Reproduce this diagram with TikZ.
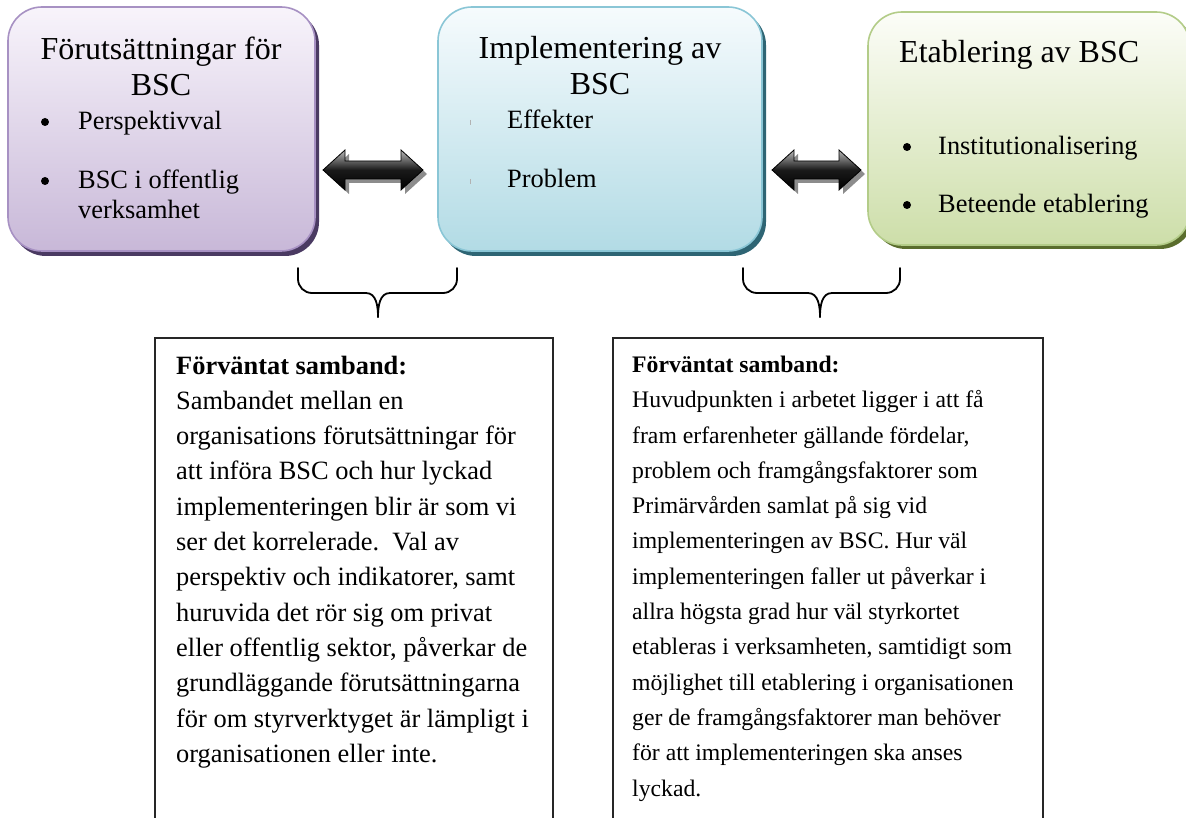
\documentclass[tikz,border=0pt]{standalone}
\usepackage{fontspec}
\setmainfont{Liberation Serif}
\usetikzlibrary{calc}

\definecolor{purpleTop}{HTML}{F8F4FB}
\definecolor{purpleBot}{HTML}{C8B8D8}
\definecolor{purpleLine}{HTML}{A791C3}
\definecolor{purpleShadow}{HTML}{4A3A62}
\definecolor{blueTop}{HTML}{F6FBFD}
\definecolor{blueBot}{HTML}{B2DBE5}
\definecolor{blueLine}{HTML}{8AC6D6}
\definecolor{blueShadow}{HTML}{2E6574}
\definecolor{greenTop}{HTML}{FCFDF8}
\definecolor{greenBot}{HTML}{CDDEA9}
\definecolor{greenLine}{HTML}{B3CC88}
\definecolor{greenShadow}{HTML}{5A6D2D}

% multi-line nodes are placed by the baseline of their last line
\tikzset{
  stagebox/.style={rounded corners=34pt, line width=1.6pt},
  body/.style={inner sep=0pt, anchor=base west, align=left,
    font=\fontsize{26.4}{35.3}\selectfont},
  smallbody/.style={inner sep=0pt, anchor=base west, align=left,
    font=\fontsize{23.7}{35.3}\selectfont},
  bodybullet/.style={inner sep=0pt, anchor=base west, align=left,
    font=\fontsize{26.4}{30.4}\selectfont},
  dot/.style={fill=black, circle, inner sep=0pt, minimum size=8pt},
  heading/.style={inner sep=0pt, anchor=base, align=center,
    font=\fontsize{32}{36.5}\selectfont},
  notebox/.style={draw=black!85, line width=1.6pt},
  bracket/.style={draw=black, line width=1.8pt, line cap=round},
  blockarrow/.style={draw=black, line width=0.8pt, top color=gray!55,
    bottom color=black, middle color=black!90},
  arrowshadow/.style={fill=black!45},
}

\begin{document}
\begin{tikzpicture}[x=1pt, y=-1pt]
\useasboundingbox (0,0) rectangle (1186,818);
\clip (0,0) rectangle (1186,818);

% ---- three stage boxes with their offset shadows ----
\fill[purpleShadow, rounded corners=34pt] (12,11) rectangle (319,256);
\path[stagebox, draw=purpleLine, top color=purpleTop, bottom color=purpleBot]
  (8,7) rectangle (315,251);

\fill[blueShadow, rounded corners=34pt] (442,11) rectangle (766,256);
\path[stagebox, draw=blueLine, top color=blueTop, bottom color=blueBot]
  (438,7) rectangle (762,251);

\fill[greenShadow, rounded corners=34pt] (872,16) rectangle (1194,249);
\path[stagebox, draw=greenLine, top color=greenTop, bottom color=greenBot]
  (868,12) rectangle (1190,245);

% ---- box texts ----
\node[heading] (t1) at (161,96) {Förutsättningar för\\BSC};
\node[dot] (t1a) at (45,122) {};
\node[bodybullet] (t1b) at (78,130) {Perspektivval};
\node[dot] (t1c) at (45,181) {};
\node[bodybullet] (t1d) at (78,219) {BSC i offentlig\\verksamhet};

\node[heading] (t2) at (600,95) {Implementering av\\BSC};
\draw[gray!60, line width=0.8pt] (470,120) -- (470,125);
\draw[gray!60, line width=0.8pt] (470,179) -- (470,184);
\node[bodybullet] (t2a) at (507,129) {Effekter};
\node[bodybullet] (t2b) at (507,188) {Problem};

\node[heading, anchor=base west] (t3) at (899,63) {Etablering av BSC};
\node[dot] (t3a) at (907,147) {};
\node[bodybullet] (t3b) at (938,155) {Institutionalisering};
\node[dot] (t3c) at (907,205) {};
\node[bodybullet] (t3d) at (938,213) {Beteende etablering};

% ---- double block arrows between the boxes ----
\foreach \xa/\xb in {323/423, 772/861} {
  \fill[arrowshadow]
    (\xa+4,174) -- ++(22,-20) -- ++(0,11) -- (\xb-18,165)
    -- ++(0,-11) -- (\xb+4,174) -- ++(-22,20) -- ++(0,-11)
    -- (\xa+26,183) -- ++(0,11) -- cycle;
  \path[blockarrow]
    (\xa,170) -- ++(22,-20) -- ++(0,11) -- (\xb-22,161) -- ++(0,-11)
    -- (\xb,170) -- ++(-22,20) -- ++(0,-11) -- (\xa+22,179) -- ++(0,11)
    -- cycle;
}

% ---- curly brackets under the box pairs ----
\foreach \l/\m/\r in {298/378/457, 743/820/900} {
  \draw[bracket] (\l,268) -- (\l,279) to[out=-90,in=180] (\l+14,293)
    -- (\m-12,293) to[out=0,in=90] (\m,317);
  \draw[bracket] (\r,268) -- (\r,279) to[out=-90,in=0] (\r-14,293)
    -- (\m+12,293) to[out=180,in=90] (\m,317);
}

% ---- explanation boxes ----
\draw[notebox] (155,338) rectangle (553,840);
\node[body] (n1) at (176,762.3) {\textbf{Förväntat samband:}\\
Sambandet mellan en\\
organisations förutsättningar för\\
att införa BSC och hur lyckad\\
implementeringen blir är som vi\\
ser det korrelerade.\ \ Val av\\
perspektiv och indikatorer, samt\\
huruvida det rör sig om privat\\
eller offentlig sektor, påverkar de\\
grundläggande förutsättningarna\\
för om styrverktyget är lämpligt i\\
organisationen eller inte.};

\draw[notebox] (613,338) rectangle (1043,840);
\node[smallbody] (n2) at (632,796) {\textbf{Förväntat samband:}\\
Huvudpunkten i arbetet ligger i att få\\
fram erfarenheter gällande fördelar,\\
problem och framgångsfaktorer som\\
Primärvården samlat på sig vid\\
implementeringen av BSC. Hur väl\\
implementeringen faller ut påverkar i\\
allra högsta grad hur väl styrkortet\\
etableras i verksamheten, samtidigt som\\
möjlighet till etablering i organisationen\\
ger de framgångsfaktorer man behöver\\
för att implementeringen ska anses\\
lyckad.};
\end{tikzpicture}
\end{document}
